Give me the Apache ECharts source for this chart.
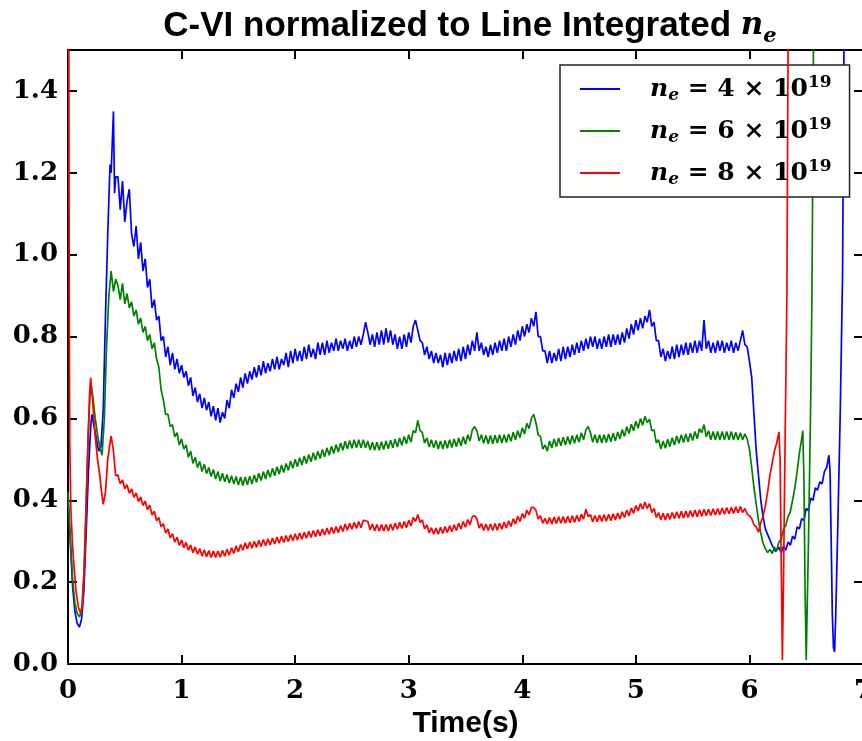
<!DOCTYPE html>
<html><head><meta charset="utf-8">
<script src="https://cdn.jsdelivr.net/npm/echarts@6/dist/echarts.min.js"></script>
<style>html,body{margin:0;padding:0;background:#fff}#c{width:862px;height:741px}</style>
</head><body><div id="c"></div>
<script>
// ---- data ----
const xTicks = [0, 1, 2, 3, 4, 5, 6, 7];
const yTicks = ['0.0', '0.2', '0.4', '0.6', '0.8', '1.0', '1.2', '1.4'];
const densities = ['4', '6', '8'];
const exponent = '19';
const colors = ['#0000ff', '#008000', '#ff0000'];

// sample times of the main block: T0, T0+DT, ...
const T0 = 0.44, DT = 0.02;

const blueHead = [[0,0.40],[0.02,0.30],[0.04,0.19],[0.06,0.13],[0.08,0.10],[0.10,0.09],[0.12,0.11],[0.14,0.18],[0.16,0.32],[0.18,0.47],[0.20,0.58],[0.21,0.61],[0.23,0.58],[0.25,0.55],[0.27,0.52],[0.29,0.53],[0.31,0.62],[0.33,0.85],[0.35,1.05],[0.37,1.22],[0.38,1.20],[0.40,1.35],[0.41,1.15],[0.42,1.19]];
const blueMain = [
1.19,1.11,1.18,1.08,1.13,1.16,1.05,1.02,1.07,0.99,
1.03,0.96,0.99,0.92,0.94,0.87,0.89,0.84,0.85,0.79,
0.80,0.75,0.775,0.73,0.76,0.72,0.745,0.71,0.73,0.70,
0.715,0.68,0.70,0.655,0.675,0.64,0.66,0.625,0.65,0.62,
0.64,0.605,0.63,0.595,0.625,0.59,0.615,0.60,0.645,0.625,
0.67,0.65,0.685,0.665,0.70,0.675,0.71,0.685,0.715,0.695,
0.725,0.70,0.73,0.705,0.74,0.71,0.735,0.715,0.745,0.72,
0.75,0.72,0.745,0.73,0.76,0.725,0.765,0.735,0.77,0.74,
0.765,0.74,0.775,0.745,0.78,0.75,0.77,0.745,0.785,0.755,
0.785,0.755,0.79,0.76,0.785,0.765,0.795,0.765,0.79,0.77,
0.795,0.765,0.79,0.77,0.80,0.775,0.80,0.78,0.805,0.835,
0.81,0.78,0.805,0.775,0.81,0.78,0.815,0.78,0.82,0.785,
0.815,0.78,0.805,0.77,0.80,0.77,0.805,0.775,0.81,0.785,
0.825,0.84,0.815,0.79,0.785,0.755,0.775,0.745,0.765,0.735,
0.76,0.735,0.755,0.725,0.76,0.73,0.76,0.735,0.765,0.74,
0.77,0.74,0.775,0.745,0.78,0.755,0.79,0.765,0.81,0.765,
0.785,0.755,0.775,0.75,0.78,0.755,0.785,0.76,0.79,0.765,
0.795,0.765,0.80,0.775,0.805,0.78,0.815,0.79,0.825,0.80,
0.83,0.81,0.845,0.825,0.86,0.80,0.80,0.765,0.765,0.735,
0.765,0.735,0.76,0.74,0.77,0.74,0.775,0.745,0.775,0.75,
0.78,0.755,0.785,0.76,0.79,0.765,0.795,0.77,0.80,0.775,
0.80,0.77,0.795,0.77,0.80,0.775,0.805,0.775,0.805,0.78,
0.805,0.78,0.81,0.785,0.82,0.795,0.83,0.805,0.84,0.815,
0.845,0.82,0.85,0.835,0.865,0.825,0.835,0.79,0.79,0.75,
0.77,0.74,0.765,0.745,0.775,0.745,0.78,0.75,0.78,0.755,
0.785,0.755,0.785,0.76,0.79,0.76,0.79,0.765,0.84,0.77,
0.79,0.76,0.785,0.76,0.79,0.765,0.79,0.76,0.785,0.765,
0.79,0.76,0.785,0.765,0.79,0.815,0.78,0.775,0.74];
const blueTail = [[6.02,0.70],[6.04,0.61],[6.06,0.52],[6.08,0.46],[6.10,0.40],[6.12,0.36],[6.14,0.33],[6.17,0.31],[6.20,0.29],[6.23,0.275],[6.26,0.285],[6.28,0.272],[6.30,0.288],[6.32,0.278],[6.34,0.298],[6.36,0.29],[6.38,0.312],[6.40,0.305],[6.42,0.335],[6.44,0.33],[6.46,0.355],[6.48,0.35],[6.50,0.38],[6.52,0.375],[6.54,0.405],[6.56,0.40],[6.58,0.43],[6.60,0.425],[6.62,0.445],[6.64,0.44],[6.66,0.47],[6.68,0.48],[6.70,0.51],[6.71,0.47],[6.72,0.30],[6.73,0.12],[6.74,0.04],[6.75,0.03],[6.76,0.12],[6.78,0.36],[6.80,0.62],[6.82,0.95],[6.83,1.4],[6.84,1.9]];

const greenHead = [[0,0.42],[0.02,0.31],[0.04,0.21],[0.06,0.15],[0.08,0.125],[0.10,0.115],[0.12,0.13],[0.14,0.22],[0.16,0.40],[0.18,0.58],[0.20,0.69],[0.22,0.65],[0.24,0.60],[0.26,0.56],[0.28,0.53],[0.30,0.51],[0.32,0.60],[0.34,0.78],[0.36,0.90],[0.38,0.96],[0.40,0.91],[0.42,0.94]];
const greenMain = [
0.925,0.89,0.93,0.88,0.905,0.87,0.885,0.85,0.865,0.83,
0.845,0.81,0.825,0.79,0.805,0.77,0.785,0.745,0.725,0.67,
0.645,0.61,0.61,0.58,0.585,0.555,0.565,0.535,0.55,0.525,
0.535,0.505,0.52,0.49,0.505,0.48,0.495,0.47,0.488,0.465,
0.48,0.458,0.475,0.452,0.47,0.447,0.466,0.445,0.463,0.442,
0.46,0.44,0.458,0.437,0.457,0.436,0.457,0.438,0.459,0.44,
0.462,0.444,0.466,0.448,0.47,0.452,0.474,0.456,0.478,0.46,
0.482,0.464,0.486,0.468,0.49,0.473,0.496,0.478,0.50,0.482,
0.504,0.486,0.508,0.49,0.512,0.494,0.516,0.498,0.52,0.502,
0.524,0.506,0.528,0.51,0.532,0.514,0.536,0.518,0.54,0.522,
0.544,0.525,0.546,0.527,0.548,0.528,0.548,0.528,0.548,0.528,
0.545,0.523,0.542,0.522,0.542,0.522,0.543,0.524,0.545,0.526,
0.547,0.528,0.549,0.53,0.552,0.534,0.556,0.538,0.56,0.542,
0.57,0.565,0.595,0.57,0.565,0.54,0.552,0.53,0.548,0.528,
0.546,0.525,0.545,0.525,0.546,0.527,0.548,0.529,0.55,0.531,
0.552,0.533,0.555,0.537,0.56,0.545,0.572,0.58,0.57,0.545,
0.56,0.539,0.558,0.538,0.558,0.538,0.559,0.54,0.56,0.54,
0.56,0.541,0.562,0.544,0.566,0.548,0.57,0.553,0.577,0.562,
0.588,0.575,0.60,0.61,0.59,0.56,0.556,0.525,0.535,0.52,
0.545,0.528,0.55,0.531,0.552,0.533,0.554,0.535,0.556,0.537,
0.558,0.539,0.56,0.542,0.565,0.548,0.572,0.58,0.565,0.542,
0.56,0.54,0.56,0.54,0.56,0.541,0.562,0.543,0.564,0.545,
0.567,0.55,0.573,0.556,0.58,0.563,0.586,0.57,0.593,0.576,
0.60,0.583,0.605,0.59,0.598,0.57,0.572,0.54,0.548,0.525,
0.545,0.527,0.549,0.531,0.553,0.535,0.557,0.539,0.56,0.541,
0.562,0.543,0.564,0.546,0.568,0.55,0.575,0.565,0.585,0.555,
0.57,0.548,0.568,0.548,0.568,0.548,0.568,0.548,0.568,0.548,
0.568,0.548,0.566,0.547,0.565,0.548,0.562,0.55,0.525];
const greenTail = [[6.02,0.48],[6.04,0.43],[6.06,0.39],[6.08,0.35],[6.10,0.32],[6.12,0.295],[6.14,0.282],[6.16,0.272],[6.18,0.28],[6.20,0.27],[6.22,0.285],[6.24,0.278],[6.26,0.298],[6.28,0.305],[6.30,0.33],[6.32,0.338],[6.34,0.36],[6.36,0.372],[6.38,0.40],[6.40,0.43],[6.42,0.47],[6.44,0.515],[6.46,0.55],[6.47,0.57],[6.48,0.45],[6.49,0.18],[6.50,0.01],[6.52,0.30],[6.54,0.65],[6.55,0.89],[6.56,1.3],[6.57,1.9]];

const redHead = [[0,3.0],[0.01,1.0],[0.015,0.55],[0.025,0.38],[0.04,0.29],[0.05,0.25],[0.07,0.18],[0.09,0.14],[0.11,0.125],[0.13,0.15],[0.15,0.28],[0.17,0.48],[0.19,0.66],[0.20,0.70],[0.22,0.63],[0.24,0.555],[0.26,0.50],[0.28,0.46],[0.30,0.41],[0.31,0.39],[0.33,0.42],[0.35,0.50],[0.37,0.54],[0.38,0.557],[0.40,0.52],[0.42,0.46]];
const redMain = [
0.462,0.44,0.45,0.428,0.438,0.417,0.428,0.407,0.418,0.397,
0.408,0.387,0.398,0.377,0.388,0.364,0.373,0.35,0.358,0.335,
0.343,0.32,0.33,0.308,0.318,0.298,0.31,0.29,0.303,0.284,
0.297,0.278,0.291,0.272,0.286,0.268,0.282,0.264,0.279,0.262,
0.277,0.26,0.276,0.26,0.276,0.261,0.278,0.263,0.28,0.266,
0.284,0.27,0.288,0.274,0.292,0.278,0.296,0.281,0.298,0.283,
0.30,0.285,0.302,0.287,0.304,0.289,0.306,0.291,0.308,0.293,
0.31,0.295,0.312,0.297,0.314,0.299,0.316,0.301,0.318,0.303,
0.32,0.305,0.322,0.307,0.324,0.309,0.326,0.311,0.328,0.313,
0.33,0.315,0.332,0.317,0.334,0.319,0.336,0.321,0.338,0.324,
0.342,0.327,0.344,0.329,0.346,0.331,0.348,0.333,0.351,0.35,
0.348,0.328,0.342,0.325,0.341,0.325,0.341,0.325,0.341,0.325,
0.342,0.327,0.344,0.329,0.346,0.331,0.348,0.333,0.351,0.337,
0.358,0.348,0.365,0.346,0.352,0.33,0.34,0.32,0.333,0.317,
0.332,0.317,0.334,0.319,0.336,0.321,0.338,0.323,0.34,0.326,
0.344,0.33,0.348,0.334,0.353,0.34,0.36,0.362,0.355,0.332,
0.343,0.326,0.342,0.326,0.342,0.326,0.343,0.327,0.344,0.329,
0.346,0.332,0.35,0.336,0.355,0.342,0.361,0.348,0.368,0.356,
0.376,0.364,0.383,0.382,0.376,0.354,0.362,0.344,0.356,0.342,
0.358,0.342,0.359,0.343,0.36,0.344,0.36,0.344,0.361,0.345,
0.362,0.346,0.363,0.348,0.366,0.354,0.378,0.36,0.365,0.347,
0.363,0.347,0.364,0.348,0.365,0.349,0.366,0.35,0.367,0.352,
0.369,0.354,0.372,0.358,0.376,0.362,0.381,0.368,0.387,0.374,
0.392,0.378,0.396,0.38,0.392,0.37,0.38,0.358,0.37,0.352,
0.368,0.352,0.368,0.353,0.37,0.355,0.372,0.356,0.373,0.357,
0.374,0.358,0.375,0.359,0.376,0.36,0.377,0.361,0.378,0.362,
0.378,0.363,0.379,0.364,0.38,0.365,0.381,0.366,0.382,0.367,
0.383,0.368,0.384,0.369,0.385,0.37,0.38,0.366,0.362];
const redTail = [[6.02,0.355],[6.04,0.34],[6.06,0.335],[6.08,0.322],[6.10,0.345],[6.12,0.362],[6.14,0.385],[6.16,0.42],[6.18,0.46],[6.20,0.49],[6.22,0.52],[6.24,0.54],[6.26,0.567],[6.27,0.50],[6.28,0.25],[6.29,0.01],[6.30,0.2],[6.31,0.45],[6.32,0.68],[6.33,0.9],[6.34,1.5],[6.35,2.2]];

// ---- build ----
function build(head, main, tail) {
  const out = head.slice();
  for (let i = 0; i < main.length; i++) out.push([+(T0 + i * DT).toFixed(3), main[i]]);
  return out.concat(tail);
}
const seriesData = [
  build(blueHead, blueMain, blueTail),
  build(greenHead, greenMain, greenTail),
  build(redHead, redMain, redTail)
];
const names = densities.map(d => 'ne' + d);

const tickFont = { fontFamily: 'DejaVu Serif', fontWeight: 'bold', fontSize: 26, color: '#000' };
const frameLine = { show: true, onZero: false, lineStyle: { color: '#000', width: 2 } };
const innerTick = { show: true, inside: true, length: 9, lineStyle: { color: '#000', width: 2 } };

const chart = echarts.init(document.getElementById('c'), null, { renderer: 'canvas' });
chart.setOption({
  animation: false,
  backgroundColor: '#fff',
  title: {
    text: '{a|C-VI normalized to Line Integrated }{n|n}{e|e}',
    left: 465, top: 0, textAlign: 'center',
    textStyle: {
      rich: {
        a: { fontFamily: 'Liberation Sans', fontWeight: 'bold', fontSize: 35, color: '#000', lineHeight: 42 },
        n: { fontFamily: 'DejaVu Serif', fontStyle: 'italic', fontSize: 31, color: '#000', lineHeight: 42 },
        e: { fontFamily: 'DejaVu Serif', fontStyle: 'italic', fontSize: 21, color: '#000', lineHeight: 23, verticalAlign: 'bottom' }
      }
    }
  },
  legend: {
    orient: 'vertical',
    left: 560, top: 65,
    padding: [9, 18, 9, 20],
    icon: 'rect',
    itemWidth: 40, itemHeight: 2, itemGap: 12,
    backgroundColor: '#fff',
    borderColor: '#222', borderWidth: 1.5, borderRadius: 0,
    data: names,
    formatter: function (name) {
      const d = densities[names.indexOf(name)];
      return '{n|n}{e|e}{t| = ' + d + ' × 10}{p|' + exponent + '}';
    },
    textStyle: {
      padding: [0, 0, 0, 25],
      rich: {
        n: { fontFamily: 'DejaVu Serif', fontStyle: 'italic', fontWeight: 'bold', fontSize: 25, color: '#000', lineHeight: 30 },
        e: { fontFamily: 'DejaVu Serif', fontStyle: 'italic', fontWeight: 'bold', fontSize: 17, color: '#000', lineHeight: 18, verticalAlign: 'bottom' },
        t: { fontFamily: 'DejaVu Serif', fontWeight: 'bold', fontSize: 25, color: '#000', lineHeight: 30 },
        p: { fontFamily: 'DejaVu Serif', fontWeight: 'bold', fontSize: 17, color: '#000', lineHeight: 18, verticalAlign: 'top' }
      }
    }
  },
  grid: { left: 68, right: -1, top: 50, bottom: 77, outerBoundsMode: 'none', containLabel: false },
  xAxis: [{
    type: 'value', min: xTicks[0], max: xTicks[xTicks.length - 1], interval: 1,
    position: 'bottom',
    name: 'Time(s)', nameLocation: 'middle', nameGap: 45,
    nameTextStyle: { fontFamily: 'Liberation Sans', fontWeight: 'bold', fontSize: 30, color: '#000' },
    axisLine: frameLine, axisTick: innerTick,
    axisLabel: Object.assign({ margin: 14, formatter: v => String(v) }, tickFont),
    splitLine: { show: false }
  }, {
    type: 'value', min: xTicks[0], max: xTicks[xTicks.length - 1], interval: 1,
    position: 'top',
    axisLine: frameLine, axisTick: innerTick,
    axisLabel: { show: false }, splitLine: { show: false }
  }],
  yAxis: [{
    type: 'value', min: 0, max: 1.5, interval: 0.2,
    position: 'left',
    axisLine: frameLine, axisTick: innerTick,
    axisLabel: Object.assign({ margin: 10, showMaxLabel: false, formatter: v => {
      const i = Math.round(v / 0.2); return (Math.abs(v - i * 0.2) < 1e-6 && i < yTicks.length) ? yTicks[i] : '';
    } }, tickFont),
    splitLine: { show: false }
  }, {
    type: 'value', min: 0, max: 1.5, interval: 0.2,
    position: 'right',
    axisLine: frameLine, axisTick: innerTick,
    axisLabel: { show: false }, splitLine: { show: false }
  }],
  series: seriesData.map((d, k) => ({
    name: names[k], type: 'line', data: d,
    xAxisIndex: 0, yAxisIndex: 0,
    symbol: 'none', showSymbol: false, clip: true,
    lineStyle: { color: colors[k], width: 1.7 },
    itemStyle: { color: colors[k] },
    z: 2 + k
  }))
});
</script>
</body></html>
